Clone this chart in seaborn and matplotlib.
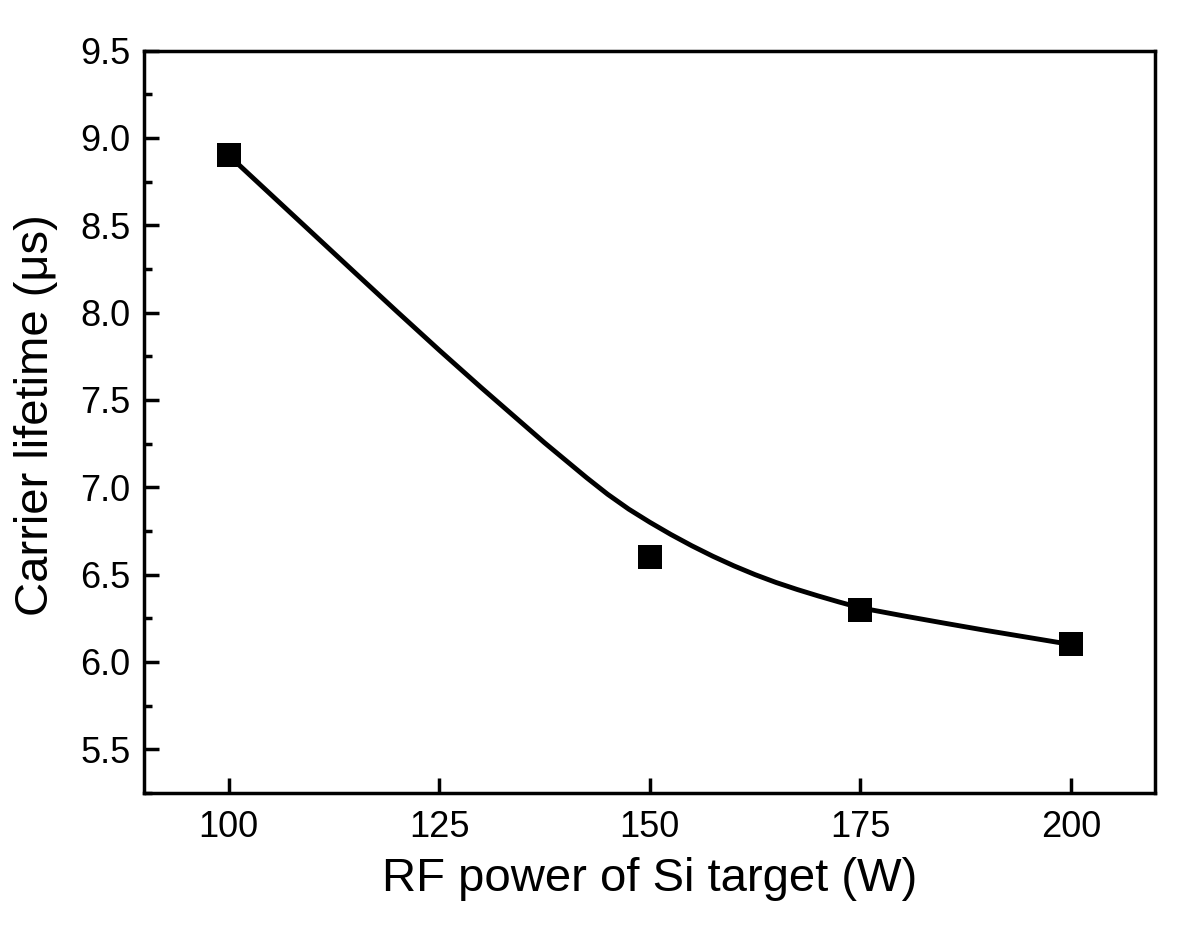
import matplotlib
matplotlib.use("Agg")
import matplotlib.pyplot as plt
import seaborn as sns
from matplotlib.ticker import MultipleLocator, FormatStrFormatter

# Measured points
power = [100, 150, 175, 200]
lifetime = [8.9, 6.6, 6.3, 6.1]

# Smoothed guide curve
curve_x = [100, 105, 110, 115, 120, 125, 130, 135, 137.5, 140, 142.5, 145, 147.5,
           150, 152.5, 155, 157.5, 160, 162.5, 165, 167.5, 170, 172.5, 175,
           180, 185, 190, 195, 200]
curve_y = [8.90, 8.676, 8.452, 8.228, 8.005, 7.785, 7.57, 7.36, 7.255, 7.155, 7.055, 6.96, 6.875,
           6.80, 6.73, 6.665, 6.605, 6.55, 6.50, 6.455, 6.415, 6.378, 6.343, 6.31,
           6.265, 6.222, 6.18, 6.14, 6.10]

sns.set_style("ticks")
plt.rcParams['font.family'] = ['Liberation Sans', 'DejaVu Sans']
plt.rcParams['text.color'] = 'black'
plt.rcParams['axes.labelcolor'] = 'black'

fig = plt.figure(figsize=(12, 9.41), dpi=100)
ax = fig.add_axes([0.1204, 0.1573, 0.8421, 0.789])

sns.lineplot(x=curve_x, y=curve_y, ax=ax, color='black', linewidth=3.5)
sns.scatterplot(x=power, y=lifetime, ax=ax, marker='s', s=290, color='black',
                edgecolor='black', linewidth=0, zorder=3)

ax.set_xlim(90, 210)
ax.set_ylim(5.25, 9.5)
ax.xaxis.set_major_locator(MultipleLocator(25))
ax.yaxis.set_major_locator(MultipleLocator(0.5))
ax.yaxis.set_minor_locator(MultipleLocator(0.25))
ax.yaxis.set_major_formatter(FormatStrFormatter('%.1f'))

for side in ['top', 'right', 'bottom', 'left']:
    ax.spines[side].set_linewidth(2.5)
    ax.spines[side].set_color('black')

ax.tick_params(axis='both', which='major', direction='in', length=11, width=2.5,
               labelsize=26, color='black', labelcolor='black')
ax.tick_params(axis='x', which='major', pad=12)
ax.tick_params(axis='y', which='major', pad=10)
ax.tick_params(axis='y', which='minor', direction='in', length=6, width=2.5, color='black')
ax.tick_params(axis='x', which='minor', bottom=False)

ax.set_xlabel('RF power of Si target (W)', fontsize=34, labelpad=9)
ax.set_ylabel('Carrier lifetime (μs)', fontsize=34, labelpad=16)
ax.yaxis.label.set_y(0.509)

fig.savefig('out.png', dpi=100, facecolor='white')
